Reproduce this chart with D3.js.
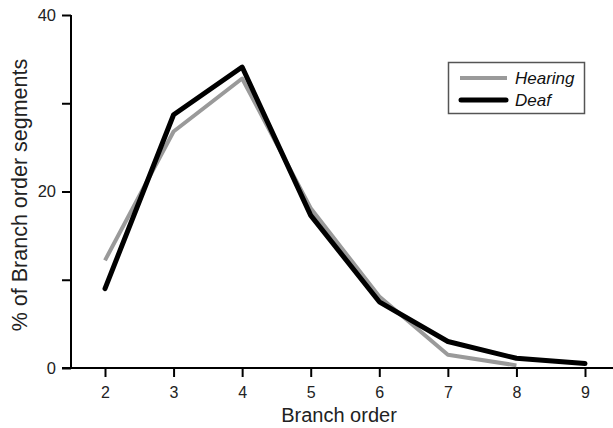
<!DOCTYPE html>
<html><head><meta charset="utf-8">
<script src="https://cdn.jsdelivr.net/npm/d3@7"></script>
<style>body{margin:0;background:#fff}svg{display:block;font-family:"Liberation Sans",Arial,sans-serif}</style>
</head><body>
<svg id="c" width="613" height="428"></svg>
<script>
const branchOrders = [2,3,4,5,6,7,8,9];
const hearing = [12.2,26.8,32.8,18.1,8.1,1.5,0.3,null];
const deaf = [9.0,28.7,34.1,17.3,7.5,3.0,1.1,0.5];
const yTicks = [0,10,20,30,40];
const yTickLabels = {0:"0",20:"20",40:"40"};
const seriesNames = ["Hearing","Deaf"];

const svg = d3.select("#c");
const x = d3.scaleLinear().domain([2,9]).range([105,585]);
const y = d3.scaleLinear().domain([0,40]).range([368,15]);

// y axis
const ya = svg.append("g").attr("transform","translate(71,0)")
  .call(d3.axisLeft(y).tickValues(yTicks).tickSize(9).tickPadding(6).tickFormat(d=>yTickLabels[d]||""));
ya.select(".domain").attr("d","M0,"+y(40)+"V"+y(0)).attr("stroke","#000").attr("stroke-width",2);
ya.selectAll(".tick line").attr("stroke","#000").attr("stroke-width",2);
ya.selectAll("text").attr("font-size",16.5).attr("fill","#222").attr("font-family","Liberation Sans, Arial, sans-serif");

// x axis
const xa = svg.append("g").attr("transform","translate(0,368)")
  .call(d3.axisBottom(x).tickValues(branchOrders).tickSize(9).tickPadding(10).tickFormat(d3.format("d")));
xa.select(".domain").attr("d","M62,0H613").attr("stroke","#000").attr("stroke-width",2);
xa.selectAll(".tick line").attr("stroke","#000").attr("stroke-width",2);
xa.selectAll("text").attr("font-size",16).attr("fill","#222").attr("font-family","Liberation Sans, Arial, sans-serif");

svg.append("text").attr("x",339).attr("y",422).attr("text-anchor","middle")
  .attr("font-size",20).attr("fill","#222").text("Branch order");
svg.append("text").attr("transform","translate(27,195) rotate(-90)").attr("text-anchor","middle")
  .attr("font-size",21.5).attr("fill","#222").text("% of Branch order segments");

const line = d3.line().defined(d=>d[1]!=null).x(d=>x(d[0])).y(d=>y(d[1]));
svg.append("path").datum(branchOrders.map((b,i)=>[b,hearing[i]]))
  .attr("d",line).attr("fill","none").attr("stroke","#9a9a9a").attr("stroke-width",4).attr("stroke-linejoin","round");
svg.append("path").datum(branchOrders.map((b,i)=>[b,deaf[i]]))
  .attr("d",line).attr("fill","none").attr("stroke","#000").attr("stroke-width",5).attr("stroke-linejoin","round").attr("stroke-linecap","round");

// legend
const lg = svg.append("g");
lg.append("rect").attr("x",448.5).attr("y",62.5).attr("width",136).attr("height",51)
  .attr("fill","#fff").attr("stroke","#555").attr("stroke-width",1.5);
lg.append("line").attr("x1",460).attr("x2",507).attr("y1",78).attr("y2",78).attr("stroke","#9a9a9a").attr("stroke-width",4);
lg.append("line").attr("x1",461).attr("x2",506).attr("y1",100).attr("y2",100).attr("stroke","#000").attr("stroke-width",5).attr("stroke-linecap","round");
lg.selectAll("text.lg").data(seriesNames).enter().append("text").attr("class","lg")
  .attr("x",515).attr("y",(d,i)=>84+i*22).attr("font-size",17).attr("font-style","italic").attr("fill","#111").text(d=>d);
</script>
</body></html>
